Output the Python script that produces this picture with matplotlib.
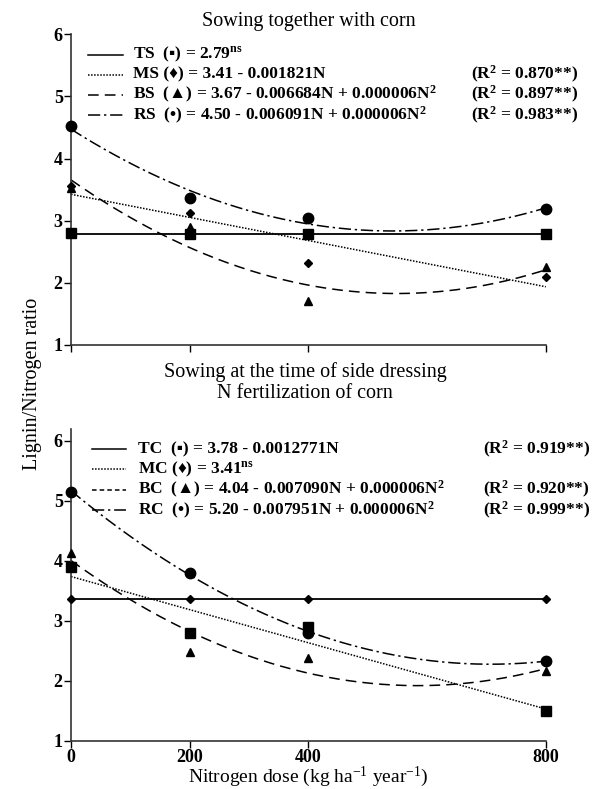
import numpy as np
import matplotlib
matplotlib.use("Agg")
import matplotlib.pyplot as plt
from matplotlib.lines import Line2D

plt.rcParams['font.family'] = ['Liberation Serif', 'DejaVu Serif', 'DejaVu Sans']
plt.rcParams['mathtext.fontset'] = 'custom'
plt.rcParams['mathtext.rm'] = 'Liberation Serif'
plt.rcParams['mathtext.bf'] = 'Liberation Serif:bold'
plt.rcParams['mathtext.default'] = 'regular'

# ---------------- data ----------------
n_dose = [0, 200, 400, 800]
x_ticks = [0, 200, 400, 800]
y_ticks = [1, 2, 3, 4, 5, 6]

# Panel 1: sowing together with corn
ts_sq = [2.80, 2.79, 2.79, 2.79]
ms_dia = [3.55, 3.13, 2.31, 2.10]
bs_tri = [3.53, 2.90, 1.71, 2.25]
rs_circ = [4.52, 3.36, 3.04, 3.19]

# Panel 2: sowing at side dressing
tc_sq = [3.89, 2.80, 2.90, 1.49]
mc_dia = [3.37, 3.37, 3.37, 3.37]
bc_tri = [4.13, 2.48, 2.38, 2.16]
rc_circ = [5.15, 3.80, 2.79, 2.33]

top_eq = ["TS  (\u25aa) = 2.79$^{\\mathbf{ns}}$",
          "MS (\u2666) = 3.41 - 0.001821N",
          "BS  (\u25b2) = 3.67 - 0.006684N + 0.000006N$^{\\mathbf{2}}$",
          "RS  (\u2022) = 4.50 - 0.006091N + 0.000006N$^{\\mathbf{2}}$"]
top_r2 = ["", "(R$^{\\mathbf{2}}$ = 0.870**)", "(R$^{\\mathbf{2}}$ = 0.897**)", "(R$^{\\mathbf{2}}$ = 0.983**)"]
bot_eq = ["TC  (\u25aa) = 3.78 - 0.0012771N",
          "MC (\u2666) = 3.41$^{\\mathbf{ns}}$",
          "BC  (\u25b2) = 4.04 - 0.007090N + 0.000006N$^{\\mathbf{2}}$",
          "RC  (\u2022) = 5.20 - 0.007951N + 0.000006N$^{\\mathbf{2}}$"]
bot_r2 = ["(R$^{\\mathbf{2}}$ = 0.919**)", "", "(R$^{\\mathbf{2}}$ = 0.920**)", "(R$^{\\mathbf{2}}$ = 0.999**)"]

# ---------------- styles ----------------
LS_SOLID = '-'
LS_DOT = (0, (1, 1))
LS_DASH = (0, (7, 4))
LS_DASHDOT = (0, (8, 2.5, 1.5, 2.5))
FS_LEG = 12.5
FS_TITLE = 14.5
FS_TICK = 13

fig = plt.figure(figsize=(5.92, 7.89), dpi=100)
ax1 = fig.add_axes([0.120, 0.563, 0.802, 0.3934])
ax2 = fig.add_axes([0.120, 0.0612, 0.802, 0.3947])

xs = np.linspace(0, 800, 300)


def fit(y, deg):
    c = np.polyfit(n_dose, y, deg)
    return np.polyval(c, xs)


def style_axes(ax, ytop, show_xlabels):
    ax.set_xlim(0, 800)
    ax.set_ylim(1, ytop)
    for s in ['top', 'right']:
        ax.spines[s].set_visible(False)
    for s in ['left', 'bottom']:
        ax.spines[s].set_linewidth(1.2)
        ax.spines[s].set_color('#333333')
    ax.set_xticks(x_ticks)
    ax.set_yticks(y_ticks)
    ax.tick_params(direction='out', length=5, width=1.0, colors='black', labelsize=FS_TICK, pad=1)
    for lab in ax.get_yticklabels():
        lab.set_fontweight('bold')
    if show_xlabels:
        for lab in ax.get_xticklabels():
            lab.set_fontweight('bold')
    else:
        ax.set_xticklabels([])


def draw_panel(ax, sq, dia, tri, circ, curves):
    for y, deg, ls, lw in curves:
        ax.plot(xs, fit(y, deg), color='black', linestyle=ls, linewidth=lw, clip_on=False)
    kw = dict(color='black', linestyle='none', clip_on=False, zorder=5)
    ax.plot(n_dose, sq, marker='s', markersize=6.5, **kw)
    ax.plot(n_dose, dia, marker='D', markersize=4.5, **kw)
    ax.plot(n_dose, tri, marker='^', markersize=5.5, **kw)
    ax.plot(n_dose, circ, marker='o', markersize=7.5, **kw)


def legend(ax, eqs, r2s, styles, x0, x1, xt, xr, rows):
    for eq, r2, (ls, lw), yy in zip(eqs, r2s, styles, rows):
        ax.add_line(Line2D([x0, x1], [yy, yy], transform=ax.transAxes, color='black',
                           linestyle=ls, linewidth=lw, clip_on=False))
        ax.text(xt, yy, eq, transform=ax.transAxes, fontsize=FS_LEG, fontweight='bold',
                va='center', ha='left')
        if r2:
            ax.text(xr, yy, r2, transform=ax.transAxes, fontsize=FS_LEG, fontweight='bold',
                    va='center', ha='right')


# Panel 1
draw_panel(ax1, ts_sq, ms_dia, bs_tri, rs_circ,
           [(ts_sq, 0, LS_SOLID, 1.3), (ms_dia, 1, LS_DOT, 1.1),
            (bs_tri, 2, LS_DASH, 1.1), (rs_circ, 2, LS_DASHDOT, 1.1)])
style_axes(ax1, 6, False)
legend(ax1, top_eq, top_r2,
       [(LS_SOLID, 1.1), (LS_DOT, 1.1), (LS_DASH, 1.1), (LS_DASHDOT, 1.1)],
       0.036, 0.109, 0.131, 1.067, [0.935, 0.870, 0.805, 0.740])
ax1.set_title("Sowing together with corn", fontsize=FS_TITLE, pad=6)

# Panel 2 (lines drawn as in the original figure)
draw_panel(ax2, tc_sq, mc_dia, bc_tri, rc_circ,
           [(mc_dia, 0, LS_SOLID, 1.3), (tc_sq, 1, LS_DOT, 1.1),
            (bc_tri, 2, LS_DASH, 1.1), (rc_circ, 2, LS_DASHDOT, 1.1)])
style_axes(ax2, 6.19, True)
legend(ax2, bot_eq, bot_r2,
       [(LS_SOLID, 1.1), (LS_DOT, 1.1), ((0, (3, 2)), 1.1), (LS_DASHDOT, 1.1)],
       0.045, 0.115, 0.14, 1.093, [0.936, 0.871, 0.806, 0.741])
fig.text(0.515, 0.515, "Sowing at the time of side dressing\nN fertilization of corn",
         ha='center', va='center', fontsize=FS_TITLE, linespacing=1.1)
ax2.set_xlabel("Nitrogen dose (kg ha$^{-1}$ year$^{-1}$)", fontsize=14, labelpad=-1)

fig.text(0.055, 0.513, "Lignin/Nitrogen ratio", rotation=90, ha='center', va='center',
         fontsize=FS_TITLE)

fig.savefig("out.png", dpi=100)
